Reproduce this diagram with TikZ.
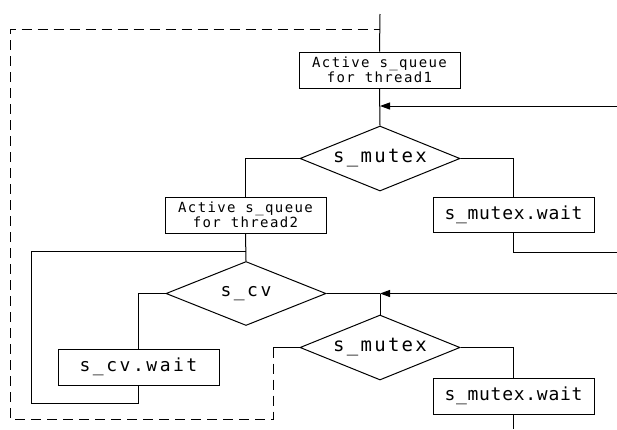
\documentclass[tikz,border=0pt]{standalone}
\usepackage{fontspec}
\usetikzlibrary{shapes.geometric,arrows.meta}
\newfontfamily\fntbox[LetterSpace=10]{DejaVu Sans Mono}
\newfontfamily\fntdia[LetterSpace=12]{DejaVu Sans Mono}
\newfontfamily\fntwait[LetterSpace=4]{DejaVu Sans Mono}
\newfontfamily\fntcv[LetterSpace=14]{DejaVu Sans Mono}
\begin{document}
\begin{tikzpicture}[x=1pt,y=-1pt,line width=1pt,
  procbox/.style={draw,rectangle,minimum width=161pt,minimum height=36pt,inner sep=0pt,align=center},
  dec/.style={draw,diamond,minimum width=160pt,minimum height=65pt,inner sep=0pt},
  boxfont/.style={font=\fntbox\fontsize{14}{15.5}\selectfont},
  diafont/.style={font=\fntdia\fontsize{19}{21}\selectfont},
  waitfont/.style={font=\fntwait\fontsize{18}{20}\selectfont},
  cvfont/.style={font=\fntcv\fontsize{18}{20}\selectfont},
  dashline/.style={dash pattern=on 10pt off 6pt},
  arr/.style={-{Triangle[length=10pt,width=7pt]}}]
\useasboundingbox (0,0) rectangle (617,429);
% nodes
\node[procbox,boxfont] (b1) at (379.5,70) {Active s\_queue\\for thread1};
\node[dec] (d1) at (380,158.5) {};
\node[diafont] (t1) at (d1) {s\_mutex};
\node[procbox,boxfont] (b2) at (245.5,215) {Active s\_queue\\for thread2};
\node[procbox,waitfont,minimum height=35pt] (b3) at (513.5,214.5) {s\_mutex.wait};
\node[dec,minimum height=64pt] (d2) at (246,293.5) {};
\node[cvfont] (t2) at (d2) {s\_cv};
\node[procbox,cvfont] (b5) at (138.5,367) {s\_cv.wait};
\node[dec] (d3) at (380,347.5) {};
\node[diafont] (t3) at (d3) {s\_mutex};
\node[procbox,waitfont] (b4) at (513.5,396) {s\_mutex.wait};
% coordinates
\coordinate (top) at (380,14);
\coordinate (in1) at (617,106);
\coordinate (j1) at (380,106);
\coordinate (out1) at (617,252);
\coordinate (in2) at (617,293.5);
\coordinate (j2) at (380,293.5);
\coordinate (l1) at (245.5,251);
\coordinate (k) at (273,347.5);
\coordinate (bot) at (513.5,429);
% connectors
\draw (top) -- (b1.north);
\draw (b1.south) -- (d1.north);
\draw[arr] (in1) -- (j1);
\draw (d1.west) -| (b2.north);
\draw (d1.east) -| (b3.north);
\draw (b3.south) |- (out1);
\draw (b2.south) -- (d2.north);
\draw (l1) -- (31,251) -- (31,403) -| (b5.south);
\draw (d2.west) -| (b5.north);
\draw (d2.east) -- (j2);
\draw[arr] (in2) -- (j2);
\draw (j2) -- (d3.north);
\draw (d3.east) -| (b4.north);
\draw (b4.south) -- (bot);
\draw (d3.west) -- (k);
\draw[dashline] (k) -- (273,419) -- (10,419) -- (10,29) -- (380,29);
\end{tikzpicture}
\end{document}
